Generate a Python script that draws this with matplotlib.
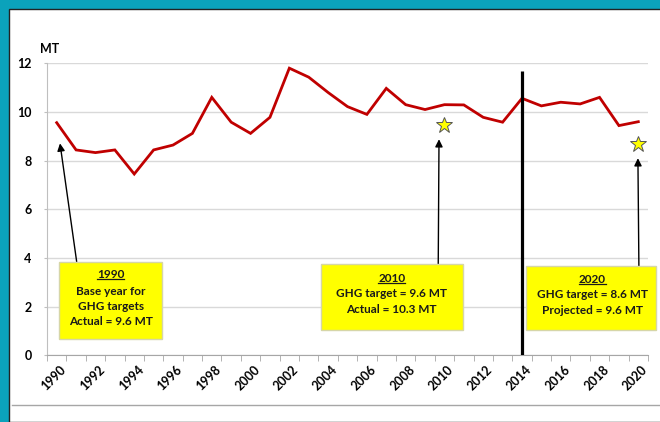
import matplotlib
matplotlib.use("Agg")
import matplotlib.pyplot as plt
from matplotlib.patches import Rectangle
from matplotlib.lines import Line2D
import matplotlib.transforms as mtransforms
import numpy as np

years = list(range(1990, 2021))
emissions = [9.56, 8.44, 8.33, 8.44, 7.45, 8.44, 8.64, 9.12, 10.6, 9.58,
             9.12, 9.78, 11.8, 11.43, 10.8, 10.22, 9.9, 10.97, 10.3, 10.1,
             10.3, 10.29, 9.78, 9.58, 10.56, 10.25, 10.4, 10.33, 10.6, 9.44, 9.6]
target_years = [2010, 2020]
target_values = [9.45, 8.7]
divider_year = 2014
divider_top = 11.7
y_ticks = [0, 2, 4, 6, 8, 10, 12]
x_label_years = list(range(1990, 2021, 2))

box_texts = [
    ["1990", "Base year for", "GHG targets", "Actual = 9.6 MT"],
    ["2010", "GHG target = 9.6 MT", "Actual = 10.3 MT"],
    ["2020", "GHG target = 8.6 MT", "Projected = 9.6 MT"],
]

TEAL = "#0ba2bb"
FONT = "Lato"

W, H = 660, 422
fig = plt.figure(figsize=(W / 100, H / 100), dpi=100, facecolor=TEAL)

# white panel
panel = Rectangle((8.5 / W, 0), 1 - 8.5 / W + 0.01, 1 - 8.5 / H,
                  transform=fig.transFigure, facecolor="white",
                  edgecolor="#222222", lw=1.0, zorder=-5)
fig.patches.append(panel)
fig.add_artist(Line2D([12 / W, 1], [1 - 405 / H, 1 - 405 / H],
                      transform=fig.transFigure, color="#a6a6a6", lw=1.0))

left, right = 47 / W, 648 / W
bottom, top = 1 - 355.3 / H, 1 - 63.3 / H
ax = fig.add_axes([left, bottom, right - left, top - bottom])
ax.set_facecolor("none")

ax.set_xlim(1989.5, 2020.5)
ax.set_ylim(0, 12)

for s in ["top", "right"]:
    ax.spines[s].set_visible(False)
ax.spines["left"].set_color("#bfbfbf")
ax.spines["bottom"].set_color("#a6a6a6")

ax.set_yticks(y_ticks)
ax.set_yticklabels([str(v) for v in y_ticks], fontfamily=FONT,
                   fontweight="bold", fontsize=9)
ax.tick_params(axis="y", length=2, color="#bfbfbf", pad=9)
ax.yaxis.grid(True, color="#d9d9d9", lw=1.0)
ax.set_axisbelow(True)

ax.set_xticks(x_label_years)
ax.set_xticklabels([str(y) for y in x_label_years], rotation=45,
                   ha="right", va="top", rotation_mode="anchor",
                   fontfamily=FONT, fontweight="bold", fontsize=9)
ax.set_xticks(np.arange(1989.5, 2021, 1.0), minor=True)
ax.tick_params(axis="x", which="major", length=0, pad=6)
ax.tick_params(axis="x", which="minor", length=4, color="#a6a6a6")
offset = mtransforms.ScaledTranslation(3 / 100, 0, fig.dpi_scale_trans)
for lab in ax.get_xticklabels():
    lab.set_transform(lab.get_transform() + offset)

fig.text(49.5 / W, 1 - 49 / H, "MT", ha="center", va="center",
         fontfamily=FONT, fontweight="bold", fontsize=9)

ax.plot(years, emissions, color="#c00000", lw=2.0, zorder=3, solid_joinstyle="miter")

ax.plot([divider_year, divider_year], [0, divider_top], color="black",
        lw=2.3, zorder=4, solid_capstyle="butt")

ax.plot(target_years, target_values, linestyle="none", marker="*",
        markersize=12, markerfacecolor="#ffff00", markeredgecolor="#555555",
        markeredgewidth=0.7, zorder=5)

arrows = [((1990.17, 8.71), (1991.03, 3.85)),
          ((2009.72, 8.88), (2009.68, 3.74)),
          ((2019.98, 8.1), (2020.03, 3.67))]
for tip, tail in arrows:
    ax.annotate("", xy=tip, xytext=tail,
                arrowprops=dict(arrowstyle="-|>", color="black", lw=1.0,
                                mutation_scale=11, shrinkA=0, shrinkB=0),
                zorder=4)

boxes = [(1990.13, 0.68, 1995.44, 3.85),
         (2003.61, 1.04, 2010.96, 3.74),
         (2014.19, 1.04, 2020.93, 3.67)]
line_pos = [(1992.79, [3.33, 2.64, 2.0, 1.38]),
            (2007.28, [3.16, 2.53, 1.89]),
            (2017.63, [3.12, 2.51, 1.86])]

title_texts = []
for (x0, y0, x1, y1), (cx, ys), lines in zip(boxes, line_pos, box_texts):
    ax.add_patch(Rectangle((x0, y0), x1 - x0, y1 - y0, facecolor="#ffff00",
                           edgecolor="#d6d6a8", lw=1.0, zorder=6, clip_on=False))
    for i, (yy, t) in enumerate(zip(ys, lines)):
        tx = ax.text(cx, yy, t, ha="center", va="center", fontfamily=FONT,
                     fontweight="bold", fontsize=8.5, color="#1a1a1a",
                     zorder=7, clip_on=False)
        if i == 0:
            title_texts.append(tx)

fig.canvas.draw()
r = fig.canvas.get_renderer()
for tx in title_texts:
    bb = tx.get_window_extent(r)
    yline = bb.y0 + 1.0
    fig.add_artist(Line2D([bb.x0 / W, bb.x1 / W], [yline / H, yline / H],
                          transform=fig.transFigure, color="#1a1a1a", lw=0.9,
                          zorder=8))

fig.savefig("out.png", dpi=100, facecolor=TEAL)
